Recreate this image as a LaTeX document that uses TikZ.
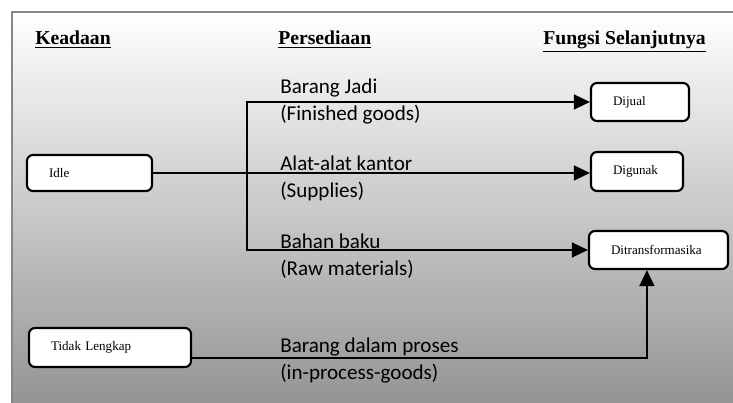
\documentclass[tikz,border=0pt]{standalone}
\usepackage{fontspec}
\setmainfont{Liberation Serif}[BoldFont={Liberation Serif Bold}]
\newfontfamily\labelfont{Carlito}
\usetikzlibrary{arrows.meta}

\tikzset{
  statebox/.style={draw, line width=1.5pt, rounded corners=0.15cm, fill=white, align=left,
    inner xsep=0.55cm, inner ysep=0pt, font=\fontsize{9.3}{11}\selectfont},
  heading/.style={anchor=base west, inner sep=0pt, font=\fontsize{14}{16}\selectfont\bfseries},
  stocklabel/.style={anchor=base west, inner sep=0pt, align=left, font=\labelfont\fontsize{15}{19.8}\selectfont},
  flow/.style={line width=1.5pt, -{Triangle[length=0.4cm, width=0.37cm]}}
}

\begin{document}
\begin{tikzpicture}
  \useasboundingbox (0,0) rectangle (18.325,10.075);
  % background panel
  \draw[gray!95, line width=2pt, top color=white, bottom color=gray!88] (0.3,-0.5) rectangle (18.8,9.775);

  % column headings
  \node[heading] (hkeadaan) at (0.875,8.95) {\underline{Keadaan}};
  \node[heading] (hpersediaan) at (6.95,8.95) {\underline{Persediaan}};
  \node[heading] (hfungsi) at (13.575,8.95) {\underline{Fungsi Selanjutnya}};

  % boxes
  \node[statebox, text width=2.025cm, minimum height=0.9cm] (idle) at (2.2375,5.75) {Idle};
  \node[statebox, text width=2.95cm, minimum height=0.975cm] (tidak) at (2.75,1.3875) {Tidak Lengkap};
  \node[statebox, text width=1.35cm, minimum height=0.95cm] (dijual) at (16.0,7.525) {Dijual};
  \node[statebox, text width=1.2cm, minimum height=0.975cm] (digunak) at (15.925,5.7875) {Digunak};
  \node[statebox, text width=2.375cm, minimum height=0.95cm] (ditrans) at (16.4625,3.825) {Ditransformasika};

  % labels on the lines (base = last line)
  \node[stocklabel] (lbjadi) at (7.0,7.05) {Barang Jadi\\(Finished goods)};
  \node[stocklabel] (lalat) at (7.0,5.125) {Alat-alat kantor\\(Supplies)};
  \node[stocklabel] (lbahan) at (7.0,3.175) {Bahan baku\\(Raw materials)};
  \node[stocklabel] (lproses) at (7.0,0.575) {Barang dalam proses\\(in-process-goods)};

  % connectors
  \coordinate (fork) at (6.175,5.75);
  \draw[flow] (idle.east) -- (idle.east -| digunak.west);
  \draw[flow] (fork) |- (dijual);
  \draw[flow] (fork) |- (ditrans);
  \draw[flow] ([yshift=-0.26cm]tidak.east) -| ([xshift=-0.29cm]ditrans.south);
\end{tikzpicture}
\end{document}
